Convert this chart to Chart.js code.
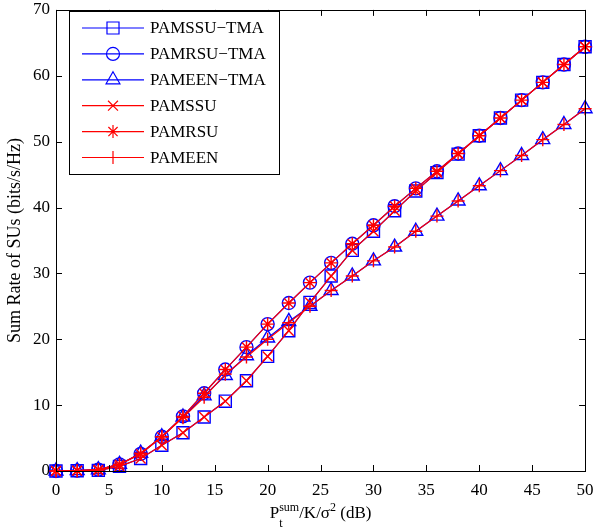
<!DOCTYPE html>
<html>
<head>
<meta charset="utf-8">
<script src="https://cdn.jsdelivr.net/npm/chart.js@4"></script>
<style>
  html, body { margin: 0; padding: 0; background: #fff; }
  #wrap { width: 595px; height: 529px; }
</style>
</head>
<body>
<div id="wrap"><canvas id="rateChart" width="595" height="529"></canvas></div>
<script>
// Data
const snrDb = [0, 2, 4, 6, 8, 10, 12, 14, 16, 18, 20, 22, 24, 26, 28, 30, 32, 34, 36, 38, 40, 42, 44, 46, 48, 50]
const pamssuTma = [0, 0.05, 0.1, 0.7, 1.9, 3.9, 5.8, 8.2, 10.6, 13.7, 17.4, 21.3, 25.6, 29.6, 33.5, 36.4, 39.5, 42.5, 45.3, 48.1, 50.9, 53.6, 56.3, 59.0, 61.7, 64.4]
const pamrsuTma = [0, 0.05, 0.2, 1.0, 2.6, 5.2, 8.3, 11.8, 15.4, 18.8, 22.3, 25.5, 28.6, 31.6, 34.5, 37.3, 40.2, 42.9, 45.5, 48.2, 50.9, 53.6, 56.3, 59.0, 61.7, 64.4]
const pameenTma = [0, 0.05, 0.2, 1.0, 2.7, 5.2, 8.2, 11.4, 14.5, 17.5, 20.2, 22.7, 25.0, 27.4, 29.6, 31.9, 34.0, 36.4, 38.7, 41.0, 43.3, 45.6, 47.9, 50.3, 52.6, 55.0]
const pamssu = [0, 0.05, 0.1, 0.7, 1.9, 3.9, 5.8, 8.2, 10.6, 13.7, 17.4, 21.3, 25.6, 29.6, 33.5, 36.4, 39.5, 42.5, 45.3, 48.1, 50.9, 53.6, 56.3, 59.0, 61.7, 64.4]
const pamrsu = [0, 0.05, 0.2, 1.0, 2.6, 5.2, 8.3, 11.8, 15.4, 18.8, 22.3, 25.5, 28.6, 31.6, 34.5, 37.3, 40.2, 42.9, 45.5, 48.2, 50.9, 53.6, 56.3, 59.0, 61.7, 64.4]
const pameen = [0, 0.05, 0.2, 1.0, 2.7, 5.2, 8.1, 11.2, 14.7, 17.3, 20.0, 22.5, 25.0, 27.4, 29.6, 31.9, 34.0, 36.4, 38.7, 41.0, 43.3, 45.6, 47.9, 50.3, 52.6, 55.0]
const xTicks = [0, 5, 10, 15, 20, 25, 30, 35, 40, 45, 50]
const yTicks = [0, 10, 20, 30, 40, 50, 60, 70]

const FONT = "'Liberation Serif', 'Times New Roman', serif"
const BLUE = '#0000ff', RED = '#ff0000'

const series = [
  { label: 'PAMSSU\u2212TMA', data: pamssuTma, color: BLUE, style: 'rect', r: 8.5 },
  { label: 'PAMRSU\u2212TMA', data: pamrsuTma, color: BLUE, style: 'circle', r: 6.5 },
  { label: 'PAMEEN\u2212TMA', data: pameenTma, color: BLUE, style: 'triangle', r: 8 },
  { label: 'PAMSSU', data: pamssu, color: RED, style: 'crossRot', r: 7 },
  { label: 'PAMRSU', data: pamrsu, color: RED, style: 'star', r: 6.5 },
  { label: 'PAMEEN', data: pameen, color: RED, style: 'cross', r: 6.5 }
]

// frame + inward ticks like matlab
const framePlugin = {
  id: 'frame',
  afterDraw(chart) {
    const { ctx, chartArea: a, scales } = chart
    ctx.save()
    ctx.strokeStyle = '#000'
    ctx.lineWidth = 1
    ctx.strokeRect(Math.round(a.left) + 0.5, Math.round(a.top) + 0.5, Math.round(a.right - a.left), Math.round(a.bottom - a.top))
    ctx.beginPath()
    xTicks.forEach(v => {
      const px = Math.round(scales.x.getPixelForValue(v)) + 0.5
      ctx.moveTo(px, a.bottom); ctx.lineTo(px, a.bottom - 6)
      ctx.moveTo(px, a.top); ctx.lineTo(px, a.top + 6)
    })
    yTicks.forEach(v => {
      const py = Math.round(scales.y.getPixelForValue(v)) + 0.5
      ctx.moveTo(a.left, py); ctx.lineTo(a.left + 6, py)
      ctx.moveTo(a.right, py); ctx.lineTo(a.right - 6, py)
    })
    ctx.stroke()

    // x axis title with super/subscripts
    const big = '17px ' + FONT, small = '12px ' + FONT
    ctx.fillStyle = '#000'
    ctx.textBaseline = 'alphabetic'
    ctx.textAlign = 'left'
    const parts = [
      { t: 'P', f: big, dy: 0 },
      { t: 'sum', f: small, dy: -7, sub: 't' },
      { t: '/K/\u03c3', f: big, dy: 0 },
      { t: '2', f: small, dy: -7 },
      { t: ' (dB)', f: big, dy: 0 }
    ]
    let total = 0
    parts.forEach(p => { ctx.font = p.f; p.w = ctx.measureText(p.t).width; total += p.w })
    let x = (a.left + a.right) / 2 - total / 2
    const base = 518
    parts.forEach(p => {
      ctx.font = p.f
      ctx.fillText(p.t, x, base + p.dy)
      if (p.sub) ctx.fillText(p.sub, x, base + 9)
      x += p.w
    })

    // legend box
    const bx = 69.5, by = 11.5, bw = 210, bh = 163
    ctx.fillStyle = '#fff'
    ctx.fillRect(bx, by, bw, bh)
    ctx.strokeStyle = '#000'
    ctx.lineWidth = 1
    ctx.strokeRect(bx, by, bw, bh)
    series.forEach((s, i) => {
      const ry = 28 + i * 25.9
      ctx.strokeStyle = s.color
      ctx.lineWidth = 1.2
      ctx.beginPath(); ctx.moveTo(82, ry); ctx.lineTo(144, ry); ctx.stroke()
      ctx.fillStyle = 'rgba(0,0,0,0)'
      Chart.helpers.drawPoint(ctx, { pointStyle: s.style, radius: s.r, borderWidth: 1.4 }, 113, ry)
      ctx.fillStyle = '#000'
      ctx.font = '17px ' + FONT
      ctx.textBaseline = 'middle'
      ctx.fillText(s.label, 150, ry + 1)
    })
    ctx.restore()
  }
}

const datasets = series.map((s, i) => ({
  label: s.label,
  data: snrDb.map((x, k) => ({ x: x, y: s.data[k] })),
  order: series.length - i,
  borderColor: s.color,
  borderWidth: 1.2,
  backgroundColor: 'rgba(0,0,0,0)',
  pointStyle: s.style,
  pointRadius: s.r,
  pointBorderColor: s.color,
  pointBorderWidth: 1.4,
  pointBackgroundColor: 'rgba(0,0,0,0)',
  tension: 0,
  clip: false
}))

new Chart(document.getElementById('rateChart'), {
  type: 'line',
  data: { datasets: datasets },
  options: {
    responsive: false,
    animation: false,
    events: [],
    layout: { padding: { top: 7.5, right: 8, left: 0, bottom: 0 } },
    plugins: { legend: { display: false }, tooltip: { enabled: false } },
    scales: {
      x: {
        type: 'linear', min: 0, max: 50,
        grid: { display: false, drawTicks: false },
        border: { display: false },
        ticks: { stepSize: 5, color: '#000', padding: 9, font: { family: FONT, size: 17 }, maxRotation: 0 },
        afterFit(scale) { scale.height = 58; scale.paddingLeft = 0; scale.paddingRight = 0 }
      },
      y: {
        min: 0, max: 70,
        grid: { display: false, drawTicks: false },
        border: { display: false },
        ticks: { stepSize: 10, color: '#000', padding: 6, font: { family: FONT, size: 17, lineHeight: 1 } },
        title: { display: true, text: 'Sum Rate of SUs (bits/s/Hz)', color: '#000', font: { family: FONT, size: 18 }, padding: { top: 4, bottom: 0 } },
        afterFit(scale) { scale.width = 56; scale.paddingTop = 0; scale.paddingBottom = 0 }
      }
    }
  },
  plugins: [framePlugin]
})
</script>
</body>
</html>
